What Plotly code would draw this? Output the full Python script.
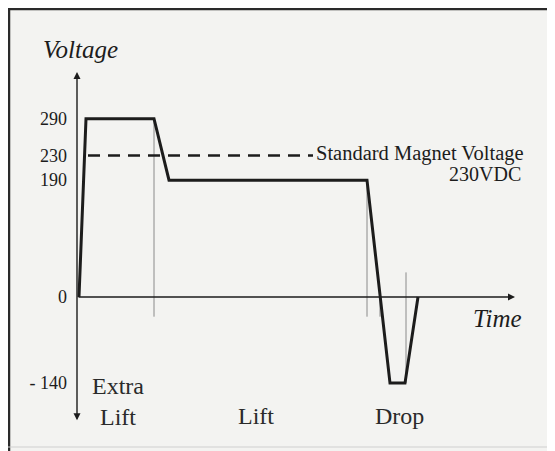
import plotly.graph_objects as go

# ---- Data (schematic voltage profile, time in arbitrary units) ----
time_pts = [2, 9, 77, 92, 290, 313, 328, 341]
voltage_pts = [0, 290, 290, 190, 190, -140, -140, 0]

standard_voltage = 230
standard_span = [11, 236]

tick_values = [290, 230, 190, 0, -140]
tick_labels = ["290", "230", "190", "0", "- 140"]

guide_x = [77, 290, 303, 329]
guide_top = [290, 190, 0, 40]
guide_bottom = [-32, -32, -32, -140]

phase_names = ["Extra<br>Lift", "Lift", "Drop"]
phase_x = [41, 179, 322]
phase_y = [-170, -193, -194]

SERIF = "Liberation Serif, Times New Roman, serif"
INK = "#1c1c1c"

# plot geometry (page body adds an 8px offset, compensated in the margins)
W, H = 555, 451
ML, MR, MT, MB = 69, 23, 52, 28
X_RANGE = [0, W - ML - MR]
Y_RANGE = [-217.9, 385.4]


def px_x(px):
    return (px - ML) / (W - ML - MR)


def px_y(py):
    return (H - MB - py) / (H - MT - MB)


fig = go.Figure()

# thin guide lines
gx, gy = [], []
for x, t, b in zip(guide_x, guide_top, guide_bottom):
    gx += [x, x, None]
    gy += [t, b, None]
fig.add_trace(go.Scatter(x=gx, y=gy, mode="lines",
                         line=dict(color="#8a8a8a", width=1),
                         hoverinfo="skip", showlegend=False))

# standard magnet voltage dashed line
fig.add_trace(go.Scatter(x=standard_span, y=[standard_voltage] * 2, mode="lines",
                         line=dict(color=INK, width=2.5, dash="12px,8px"),
                         hoverinfo="skip", showlegend=False))

# main voltage profile
fig.add_trace(go.Scatter(x=time_pts, y=voltage_pts, mode="lines",
                         line=dict(color=INK, width=3),
                         hoverinfo="skip", showlegend=False))

annotations = []
# vertical axis with arrows both ends
annotations.append(dict(x=0, y=366, ax=0, ay=-203, xref="x", yref="y",
                        axref="x", ayref="y", text="", showarrow=True,
                        arrowhead=2, arrowsize=1, arrowwidth=1.4,
                        arrowside="end+start", arrowcolor=INK))
# time axis
annotations.append(dict(x=438, y=0, ax=0, ay=0, xref="x", yref="y",
                        axref="x", ayref="y", text="", showarrow=True,
                        arrowhead=2, arrowsize=1, arrowwidth=1.4,
                        arrowcolor=INK))

annotations.append(dict(x=px_x(72), y=px_y(42), xref="paper", yref="paper",
                        xanchor="center", yanchor="middle",
                        text="<i>Voltage</i>", showarrow=False,
                        font=dict(family=SERIF, size=25, color=INK)))
annotations.append(dict(x=420, y=0, yshift=-21, xref="x", yref="y", text="<i>Time</i>",
                        xanchor="center", yanchor="middle",
                        showarrow=False, font=dict(family=SERIF, size=25, color=INK)))
annotations.append(dict(x=237, y=standard_voltage, yshift=2, xref="x", yref="y",
                        text="Standard Magnet Voltage", xanchor="left",
                        showarrow=False, font=dict(family=SERIF, size=20.5, color=INK)))
annotations.append(dict(x=446, y=standard_voltage, yshift=-18, xref="x", yref="y",
                        text="230VDC", xanchor="right",
                        showarrow=False, font=dict(family=SERIF, size=20, color=INK)))
for name, x, y in zip(phase_names, phase_x, phase_y):
    annotations.append(dict(x=x, y=y, xref="x", yref="y", text=name,
                            xanchor="center", yanchor="middle",
                            showarrow=False,
                            font=dict(family=SERIF, size=24, color="#2a2a2a")))

shapes = [
    dict(type="line", xref="paper", yref="paper",
         x0=px_x(1), x1=px_x(1), y0=px_y(0), y1=px_y(451),
         line=dict(color="#2a2a2a", width=2.5)),
    dict(type="line", xref="paper", yref="paper",
         x0=px_x(0), x1=px_x(555), y0=px_y(1), y1=px_y(1),
         line=dict(color="#2a2a2a", width=2.5)),
    dict(type="line", xref="paper", yref="paper",
         x0=px_x(0), x1=px_x(555), y0=px_y(439), y1=px_y(439),
         line=dict(color="#cfcfcf", width=1)),
]

fig.update_layout(
    width=W, height=H,
    margin=dict(l=ML, r=MR, t=MT, b=MB),
    paper_bgcolor="#f3f3f1", plot_bgcolor="#f3f3f1",
    xaxis=dict(range=X_RANGE, visible=False, fixedrange=True),
    yaxis=dict(range=Y_RANGE, showgrid=False, zeroline=False, showline=False,
               tickmode="array", tickvals=tick_values, ticktext=tick_labels,
               ticks="", ticklabelstandoff=9,
               tickfont=dict(family=SERIF, size=18, color=INK), fixedrange=True),
    annotations=annotations,
    shapes=shapes,
    showlegend=False,
)

fig.write_html("out.html")
